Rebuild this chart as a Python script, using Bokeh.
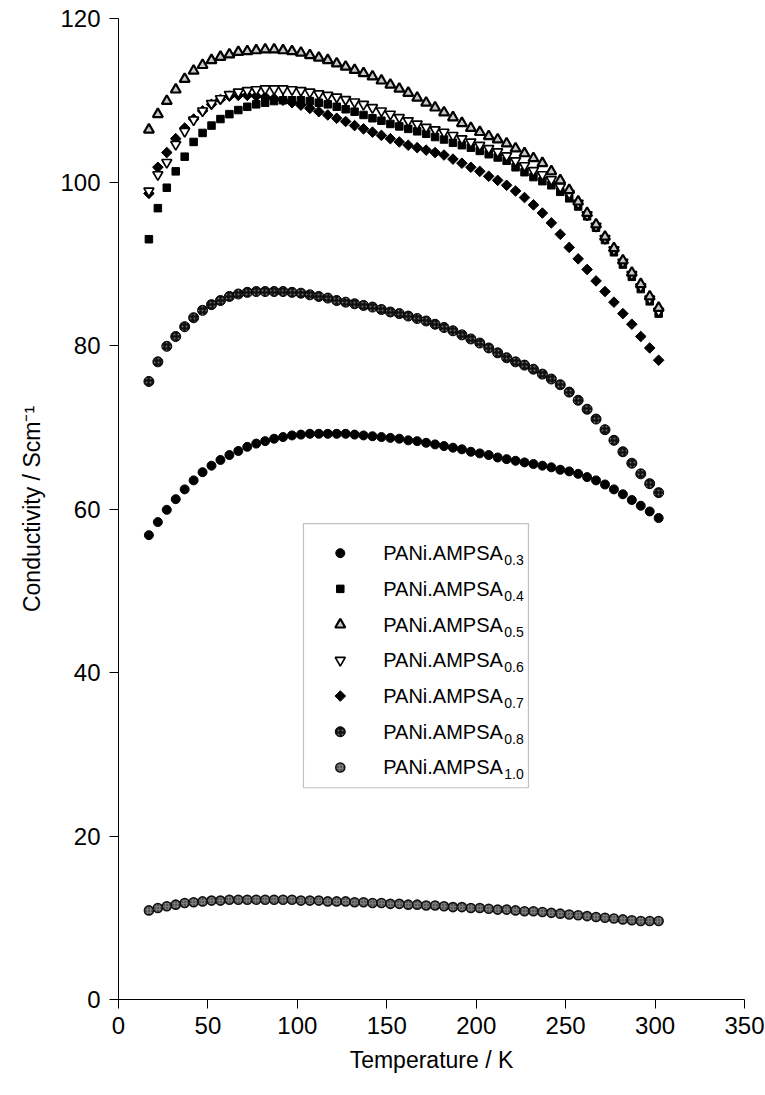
from bokeh.plotting import figure
from bokeh.models import Label, BoxAnnotation, Range1d, FixedTicker
from bokeh.embed import file_html
from bokeh.resources import INLINE

# ---------------- data ----------------
T = [17, 22, 27, 32, 37, 42, 47, 52, 57, 62,
     67, 72, 77, 82, 87, 92, 97, 102, 107, 112,
     117, 122, 127, 132, 137, 142, 147, 152, 157, 162,
     167, 172, 177, 182, 187, 192, 197, 202, 207, 212,
     217, 222, 227, 232, 237, 242, 247, 252, 257, 262,
     267, 272, 277, 282, 287, 292, 297, 302]

s03 = [56.8, 58.4, 59.9, 61.2, 62.4, 63.5, 64.5, 65.3, 66.0, 66.6,
       67.1, 67.6, 68.0, 68.3, 68.6, 68.8, 69.0, 69.1, 69.2, 69.2,
       69.2, 69.2, 69.2, 69.1, 69.0, 68.9, 68.8, 68.7, 68.6, 68.4,
       68.3, 68.1, 67.9, 67.7, 67.5, 67.3, 67.0, 66.8, 66.6, 66.3,
       66.1, 65.9, 65.7, 65.5, 65.3, 65.1, 64.8, 64.6, 64.3, 63.9,
       63.5, 63.0, 62.4, 61.8, 61.1, 60.4, 59.7, 58.9]

s04 = [93.0, 96.8, 99.3, 101.3, 103.1, 104.9, 106.0, 106.9, 107.7, 108.3,
       108.8, 109.2, 109.5, 109.7, 109.9, 110.0, 110.0, 110.0, 109.9, 109.7,
       109.5, 109.2, 108.9, 108.6, 108.2, 107.8, 107.5, 107.1, 106.8, 106.5,
       106.2, 105.9, 105.5, 105.2, 104.8, 104.5, 104.2, 103.8, 103.4, 103.0,
       102.6, 101.8, 101.2, 100.6, 100.1, 99.6, 98.8, 98.0, 97.0, 95.8,
       94.4, 92.9, 91.4, 89.9, 88.4, 86.9, 85.4, 83.9]

s05 = [106.4, 108.3, 109.9, 111.3, 112.6, 113.6, 114.3, 114.9, 115.3, 115.6,
       115.9, 116.0, 116.1, 116.2, 116.2, 116.1, 116.0, 115.8, 115.5, 115.2,
       114.9, 114.5, 114.1, 113.7, 113.3, 112.9, 112.4, 111.9, 111.4, 110.9,
       110.3, 109.7, 109.1, 108.5, 107.9, 107.2, 106.6, 106.1, 105.6, 105.2,
       104.7, 104.1, 103.5, 102.9, 102.3, 101.3, 100.2, 99.0, 97.6, 96.2,
       94.8, 93.3, 91.9, 90.4, 88.9, 87.5, 86.0, 84.6]

s06 = [98.9, 100.9, 102.4, 104.6, 106.2, 107.6, 108.7, 109.6, 110.2, 110.7,
       111.0, 111.2, 111.3, 111.4, 111.4, 111.4, 111.3, 111.2, 111.0, 110.8,
       110.6, 110.4, 110.1, 109.8, 109.5, 109.1, 108.7, 108.3, 107.9, 107.5,
       107.1, 106.7, 106.4, 106.1, 105.7, 105.3, 104.9, 104.5, 104.1, 103.7,
       103.2, 102.6, 102.0, 101.4, 100.9, 100.3, 99.4, 98.6, 97.4, 96.0,
       94.6, 93.1, 91.7, 90.2, 88.7, 87.2, 85.7, 84.2]

s07 = [98.6, 101.8, 103.6, 105.3, 106.6, 107.7, 108.7, 109.5, 110.1, 110.5,
       110.6, 110.6, 110.5, 110.4, 110.2, 110.0, 109.7, 109.4, 109.0, 108.6,
       108.2, 107.8, 107.4, 106.9, 106.5, 106.1, 105.7, 105.3, 104.9, 104.5,
       104.2, 103.9, 103.6, 103.3, 102.8, 102.3, 101.8, 101.3, 100.7, 100.2,
       99.6, 98.9, 98.1, 97.2, 96.2, 95.0, 93.6, 92.0, 90.6, 89.3,
       87.9, 86.6, 85.3, 83.9, 82.6, 81.1, 79.7, 78.2]

s08 = [75.6, 78.0, 79.9, 81.1, 82.3, 83.4, 84.3, 85.0, 85.5, 86.0,
       86.3, 86.5, 86.6, 86.6, 86.6, 86.6, 86.5, 86.4, 86.2, 86.0,
       85.8, 85.5, 85.3, 85.1, 84.9, 84.7, 84.4, 84.1, 83.9, 83.6,
       83.3, 83.0, 82.6, 82.2, 81.8, 81.3, 80.8, 80.3, 79.7, 79.1,
       78.5, 78.0, 77.6, 77.1, 76.5, 75.9, 75.2, 74.3, 73.3, 72.2,
       71.0, 69.7, 68.4, 67.0, 65.6, 64.3, 63.1, 62.0]

s10 = [10.9, 11.2, 11.4, 11.6, 11.8, 11.9, 12.0, 12.1, 12.1, 12.2,
       12.2, 12.2, 12.2, 12.2, 12.2, 12.2, 12.2, 12.1, 12.1, 12.1,
       12.0, 12.0, 12.0, 11.9, 11.9, 11.8, 11.8, 11.7, 11.7, 11.6,
       11.6, 11.5, 11.5, 11.4, 11.3, 11.3, 11.2, 11.2, 11.1, 11.0,
       11.0, 10.9, 10.8, 10.8, 10.7, 10.6, 10.5, 10.4, 10.3, 10.2,
       10.1, 10.0, 9.9, 9.8, 9.7, 9.6, 9.6, 9.6]

labels = ["0.3", "0.4", "0.5", "0.6", "0.7", "0.8", "1.0"]
xticks = [0, 50, 100, 150, 200, 250, 300, 350]
yticks = [0, 20, 40, 60, 80, 100, 120]

# ---------------- styles ----------------
FONT = "Liberation Sans"
styles = {
    "0.3": dict(marker="circle", size=9, fill_color="black", line_color="black"),
    "0.4": dict(marker="square", size=7.5, fill_color="black", line_color="black"),
    "0.5": dict(marker="triangle", size=10, fill_color="#c8c8c8", line_color="black", line_width=2.2),
    "0.6": dict(marker="inverted_triangle", size=10, fill_color="white", line_color="black", line_width=1.7),
    "0.7": dict(marker="square", size=7.5, angle=0.785398, fill_color="black", line_color="black"),
    "0.8": dict(marker="circle", size=10, fill_color="#111111", line_color="black",
                hatch_pattern="dot", hatch_color="#6a6a6a", hatch_scale=4, hatch_weight=1),
    "1.0": dict(marker="circle", size=9, fill_color="#7a7a7a", line_color="#111111", line_width=1.6,
                hatch_pattern="dot", hatch_color="#222222", hatch_scale=3, hatch_weight=1),
}
series = {"0.3": s03, "0.4": s04, "0.5": s05, "0.6": s06, "0.7": s07, "0.8": s08, "1.0": s10}
draw_order = ["1.0", "0.3", "0.8", "0.7", "0.4", "0.6", "0.5"]

p = figure(width=765, height=1095,
           x_range=Range1d(0, 350), y_range=Range1d(0, 120),
           output_backend="svg", toolbar_location=None,
           min_border_left=118, min_border_right=21,
           min_border_top=18, min_border_bottom=96)
p.outline_line_color = None
p.grid.visible = False
p.background_fill_color = "white"
p.border_fill_color = "white"

for ax, ticks in ((p.xaxis, xticks), (p.yaxis, yticks)):
    ax.ticker = FixedTicker(ticks=ticks)
    ax.minor_tick_line_color = None
    ax.major_tick_in = 0
    ax.major_tick_out = 9
    ax.axis_line_color = "black"
    ax.major_tick_line_color = "black"
    ax.major_label_text_font = FONT
    ax.major_label_text_font_size = "24px"
    ax.major_label_text_color = "black"
    ax.axis_label_text_font = FONT
    ax.axis_label_text_font_size = "23px"
    ax.axis_label_text_font_style = "normal"
    ax.axis_label_text_color = "black"

p.xaxis.axis_label = "Temperature / K"
p.yaxis.axis_label = "Conductivity / Scm\u207b\u00b9"
p.xaxis.major_label_standoff = 8
p.yaxis.major_label_standoff = 9
p.xaxis.axis_label_standoff = 10
p.yaxis.axis_label_standoff = 12

for key in draw_order:
    p.scatter(T, series[key], **styles[key])

# ---------------- legend (manual, for subscripts) ----------------
box = BoxAnnotation(left=103.4, right=229.2, top=58.2, bottom=25.9,
                    fill_color="white", fill_alpha=1.0,
                    line_color="#333333", line_width=1.2, level="underlay")
p.add_layout(box)

LEG_XM = 124.0
LEG_XT = 148.0
LEG_Y0 = 54.6
LEG_DY = 4.37
for i, lab in enumerate(labels):
    y = LEG_Y0 - i * LEG_DY
    p.scatter([LEG_XM], [y], **styles[lab])
    p.add_layout(Label(x=LEG_XT, y=y, text="PANi.AMPSA", text_font=FONT,
                       text_font_size="20px", text_baseline="middle", text_color="black"))
    p.add_layout(Label(x=LEG_XT, y=y - 0.85, x_offset=121, text=lab, text_font=FONT,
                       text_font_size="14px", text_baseline="middle", text_color="black"))

open("out.html", "w").write(file_html(p, INLINE))
